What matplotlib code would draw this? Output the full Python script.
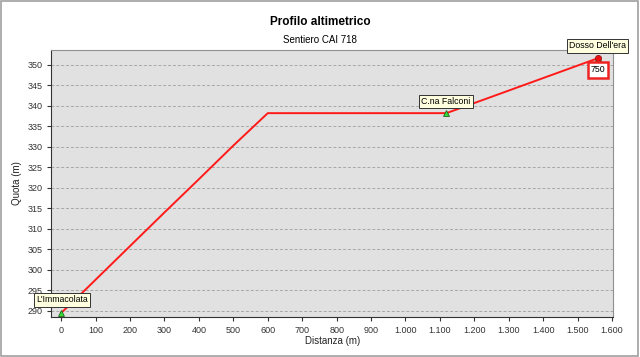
import matplotlib
matplotlib.use("Agg")
import matplotlib.pyplot as plt
from matplotlib.patches import Rectangle
from matplotlib.ticker import FuncFormatter

# Profile data (distance in m, elevation in m)
distanza = [0, 50, 100, 200, 300, 400, 500, 600, 1119, 1559]
quota = [289.5, 293.5, 297.6, 305.8, 314.0, 322.1, 330.3, 338.2, 338.2, 351.6]

# Waypoints
wp_nomi = ["L'Immacolata", "C.na Falconi", "Dosso Dell'era"]
wp_dist = [0, 1119, 1559]
wp_quota = [289.5, 338.2, 351.6]

plt.rcParams['font.family'] = ['Liberation Sans', 'DejaVu Sans']

fig = plt.figure(figsize=(6.4, 3.57), dpi=100)
fig.patch.set_facecolor("white")
# gray frame around the whole picture
fig.patches.append(Rectangle((0.002, 0.003), 0.995, 0.994, transform=fig.transFigure,
                             fill=False, edgecolor="#a0a0a0", linewidth=1.2))

ax = fig.add_axes([0.080, 0.112, 0.878, 0.748])
ax.set_facecolor("#e1e1e1")
ax.set_xlim(-29, 1603)
ax.set_ylim(288.5, 353.6)

ax.set_yticks(range(290, 351, 5))
ax.set_xticks(range(0, 1601, 100))
ax.xaxis.set_major_formatter(FuncFormatter(lambda v, p: f"{int(v):,}".replace(",", ".")))
ax.tick_params(labelsize=6.5, colors="#333333", length=3, width=0.8)
ax.grid(axis="y", linestyle=(0, (3, 2)), color="#a8a8a8", linewidth=0.7)
ax.set_axisbelow(True)

for s in ["left", "bottom"]:
    ax.spines[s].set_color("#333333")
for s in ["top", "right"]:
    ax.spines[s].set_color("#909090")

ax.plot(distanza, quota, color="#ff1a1a", linewidth=1.4, zorder=3)

# waypoint markers
ax.plot(wp_dist, wp_quota, linestyle="none", marker="^", markersize=5,
        markerfacecolor="#33dd33", markeredgecolor="#226622", markeredgewidth=0.6, zorder=4, clip_on=False)
ax.plot([wp_dist[-1]], [wp_quota[-1]], marker="o", markersize=4.5, color="#ee1111",
        markeredgecolor="#881111", markeredgewidth=0.5, zorder=5)

box = dict(boxstyle="square,pad=0.25", facecolor="#ffffe0", edgecolor="#333333", linewidth=0.7)
ax.annotate(wp_nomi[0], (wp_dist[0], wp_quota[0]), xytext=(-18, 7.5), textcoords="offset points",
            fontsize=6.3, bbox=box, zorder=6, annotation_clip=False)
ax.annotate(wp_nomi[1], (wp_dist[1], wp_quota[1]), xytext=(-18, 6.5), textcoords="offset points",
            fontsize=6.3, bbox=box, zorder=6)
ax.annotate(wp_nomi[2], (wp_dist[2], wp_quota[2]), xytext=(-21, 7), textcoords="offset points",
            fontsize=6.3, bbox=box, zorder=6, annotation_clip=False)

# 750 marker box
ax.annotate("750", (wp_dist[2], wp_quota[2]), xytext=(0, -8.5), textcoords="offset points",
            fontsize=6.3, ha="center", va="center",
            bbox=dict(boxstyle="square,pad=0.35", facecolor="white", edgecolor="#ee2222", linewidth=1.8),
            zorder=6, annotation_clip=False)

ax.set_xlabel("Distanza (m)", fontsize=7, labelpad=1, color="#222222")
ax.set_ylabel("Quota (m)", fontsize=7, labelpad=4, color="#222222")

fig.text(0.5, 0.938, "Profilo altimetrico", ha="center", va="center", fontsize=8.5, fontweight="bold")
fig.text(0.5, 0.888, "Sentiero CAI 718", ha="center", va="center", fontsize=7)

fig.savefig("out.png", dpi=100)
